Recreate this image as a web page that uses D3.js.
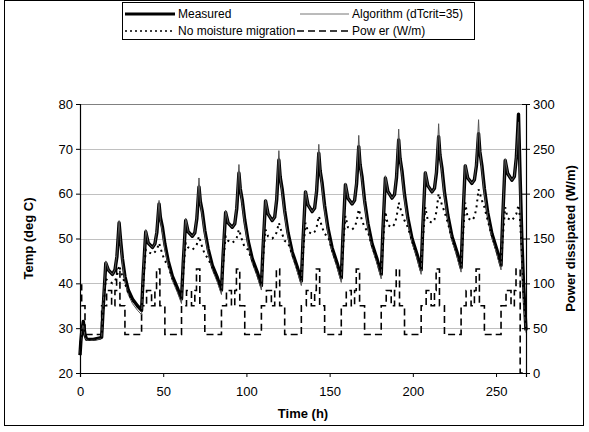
<!DOCTYPE html>
<html><head><meta charset="utf-8">
<script src="https://cdn.jsdelivr.net/npm/d3@7"></script>
<style>body{margin:0;background:#fff}svg{display:block}text{font-family:"Liberation Sans",Arial,sans-serif}</style>
</head><body>
<script>
// ---- data ----
const times = [0,0.5,1,2,3,4,8,12,
13,14,15.5,17,19.5,21,22.2,23.5,24.3,25.5,27,29,31.5,34.5,
37,38,39.5,41,43.5,45,46.2,47.5,48.3,49.5,51,53,55.5,58.5,
61,62,63.5,65,67.5,69,70.2,71.5,72.3,73.5,75,77,79.5,82.5,
85,86,87.5,89,91.5,93,94.2,95.5,96.3,97.5,99,101,103.5,106.5,
109,110,111.5,113,115.5,117,118.2,119.5,120.3,121.5,123,125,127.5,130.5,
133,134,135.5,137,139.5,141,142.2,143.5,144.3,145.5,147,149,151.5,154.5,
157,158,159.5,161,163.5,165,166.2,167.5,168.3,169.5,171,173,175.5,178.5,
181,182,183.5,185,187.5,189,190.2,191.5,192.3,193.5,195,197,199.5,202.5,
205,206,207.5,209,211.5,213,214.2,215.5,216.3,217.5,219,221,223.5,226.5,
229,230,231.5,233,235.5,237,238.2,239.5,240.3,241.5,243,245,247.5,250.5,
253,254,255.5,257,259.5,261,262.2,263.5,264.3,265.5,266.5,268];

const measured = [24,27,29,31.5,28.5,27.5,27.5,27.8,
28,35,44.5,43,42,43,46,53.5,50,45.5,41.5,38.5,36.5,35,
34,41.9,51.5,49,48,48.8,51.4,57.7,54.7,52.6,48.8,45,41.6,39,
36.5,44.4,54,51.5,50.5,51.3,54.4,61.5,58.3,56,51.8,47.7,44,41.3,
38.5,46.3,55.8,53.5,52.5,53.3,56.7,64.6,61.1,58.6,54.1,49.5,45.5,42.5,
39.5,48,58.4,55.5,54,54.8,58.7,67.5,63.7,61,56.2,51.3,47,43.7,
40.5,49.5,60.4,57.5,56,56.8,60.6,69,65.1,62.3,57.3,52.3,47.9,44.5,
41.2,50.6,62,59,57.7,58.5,62.2,70.5,66.5,63.7,58.5,53.4,48.8,45.4,
42,51.7,63.5,60.5,59,59.8,63.6,72,67.9,65,59.8,54.6,50,46.5,
43,52.7,64.6,61.8,60.4,61.2,64.7,72.7,68.6,65.7,60.4,55.2,50.5,47,
43.5,53.7,66.2,63.5,62.3,63.1,66.2,73.4,69.3,66.3,61.1,55.8,51.1,47.5,
44,54.5,67.4,64.5,63,63.8,68.1,77.7,66,50,40,29.5];

const algorithm = [24,27.5,29.5,31,28,27.3,27.3,27.6,
27.8,36,45,43,42,43,46.5,54,49.5,44.5,40.5,37.5,35.5,34,
33,42.5,52,49,48,48.8,52,58.5,54,51.5,47.5,44,40.6,38,
35.5,45,54.5,51.5,50.5,51.3,55,63.5,58,55,50.8,46.7,43,40.3,
37.5,47,56.3,53.5,52.5,53.3,57.5,66.5,61,57.6,53.1,48.5,44.5,41.5,
38.5,48.6,58.8,55.5,54,54.8,59.5,69.6,63.5,60,55.2,50.3,46,42.7,
39.5,50,60.8,57.5,56,56.8,61.5,71,65,61.3,56.3,51.3,46.9,43.5,
40.2,51,62.4,59,57.7,58.5,63,73,66.5,62.7,57.5,52.4,47.8,44.4,
41,52.2,64,60.5,59,59.8,64.5,74.4,68,64,58.8,53.6,49,45.5,
42,53.2,65,61.8,60.4,61.2,65.5,75.6,68.8,64.7,59.4,54.2,49.5,46,
42.5,54.2,66.6,63.5,62.3,63.1,67,76.5,69.5,65.3,60.1,54.8,50.1,46.5,
43,55,67.8,64.5,63,63.8,68.5,76,63,45,36,29];

const noMoisture = [24,27,29,31.5,28.5,27.5,27.5,27.8,
28,34,41,40.5,40,40.5,41.6,44,43,41.5,40,37.8,36.2,34.8,
34,39.5,47.5,47,46.5,47,47.5,49,48,46.5,45,44,41.1,38.7,
36.5,42,49,48,47.5,48,48.7,50.5,49.5,48,46.5,45.5,43.5,41,
38.5,44,50.5,49.5,49,49.5,50.2,52,51,49.5,48,47.5,45,42.2,
39.5,45.5,52,50.5,50,50.5,51.4,53.5,52.5,51,49.5,49,46.5,43.4,
40.5,46.5,53.5,51.5,51,51.5,52.6,55,54,52.5,51,50.5,47.4,44.2,
41.2,47.5,55,52.5,52,52.5,53.8,56.5,55.5,54,52.5,51.5,48.3,45.1,
42,48.5,56,53,52.5,53.2,54.7,58,57,55.5,54,52.5,49.5,46.2,
43,49.5,57,54,53.5,54.2,56,60,59,57.5,56,53.5,50,46.7,
43.5,50,58,54.5,54,54.8,56.8,61,60,58.5,57,54,50.6,47.2,
44,50,57,54.5,54,54.8,55.5,57.5,55,47,38,30];

const powerTimes = [0,1,3,
13,16,19,21,22,24,27,
37,40,43,45,46,48,51,
61,64,67,69,70,72,75,
85,88,91,93,94,96,99,
109,112,115,117,118,120,123,
133,136,139,141,142,144,147,
157,160,163,165,166,168,171,
181,184,187,189,190,192,195,
205,208,211,213,214,216,219,
229,232,235,237,238,240,243,
253,256,259,261,262,264.5,268];
const power = [98,75,43,
75,92,75,92,116,75,43,
75,92,75,92,116,75,43,
75,92,75,92,116,75,43,
75,92,75,92,116,75,43,
75,92,75,92,116,75,43,
75,92,75,92,116,75,43,
75,92,75,92,116,75,43,
75,92,75,92,116,75,43,
75,92,75,92,116,75,43,
75,92,75,92,116,75,43,
75,92,75,92,116,0,0];

const xTicks = [0,50,100,150,200,250];
const tempTicks = [20,30,40,50,60,70,80];
const powerTicks = [0,50,100,150,200,250,300];
const legendLabels = ["Measured","Algorithm (dTcrit=35)","No moisture migration","Pow er (W/m)"];

// ---- drawing ----
const W = 589, H = 432;
const svg = d3.select("body").append("svg").attr("width", W).attr("height", H);

const x = d3.scaleLinear().domain([0, 268]).range([80, 526]);
const yT = d3.scaleLinear().domain([20, 80]).range([373, 104]);
const yP = d3.scaleLinear().domain([0, 300]).range([373, 104]);

// outer border
svg.append("rect").attr("x", 4.5).attr("y", 0.5).attr("width", 579).attr("height", 425)
  .attr("fill", "none").attr("stroke", "#000").attr("stroke-width", 1);

// gridlines
svg.append("g").selectAll("line").data(tempTicks.filter(d => d > 20 && d < 80)).join("line")
  .attr("x1", x(0)).attr("x2", x(268))
  .attr("y1", d => Math.round(yT(d)) + 0.5).attr("y2", d => Math.round(yT(d)) + 0.5)
  .attr("stroke", "#c0c0c0").attr("stroke-width", 1);
svg.append("line").attr("x1", x(0)).attr("x2", x(268))
  .attr("y1", Math.round(yT(80)) + 0.5).attr("y2", Math.round(yT(80)) + 0.5)
  .attr("stroke", "#808080").attr("stroke-width", 1);

// series
const pts = vals => times.map((t, i) => [t, vals[i]]);
const lineT = d3.line().x(d => x(d[0])).y(d => yT(d[1]));
const lineP = d3.line().x(d => x(d[0])).y(d => yP(d[1])).curve(d3.curveStepAfter);

svg.append("path").datum(powerTimes.map((t, i) => [t, power[i]])).attr("d", lineP)
  .attr("fill", "none").attr("stroke", "#000").attr("stroke-width", 1.6).attr("stroke-dasharray", "7,4");
svg.append("path").datum(pts(measured)).attr("d", lineT)
  .attr("fill", "none").attr("stroke", "#000").attr("stroke-width", 3.4).attr("stroke-linejoin", "round");
svg.append("path").datum(pts(algorithm)).attr("d", lineT)
  .attr("fill", "none").attr("stroke", "#555").attr("stroke-width", 1);
svg.append("path").datum(pts(noMoisture)).attr("d", lineT)
  .attr("fill", "none").attr("stroke", "#000").attr("stroke-width", 2).attr("stroke-dasharray", "2,4");

// axes
const fs = "13px";
const gx = svg.append("g").attr("transform", `translate(0,${yT(20)})`)
  .call(d3.axisBottom(x).tickValues(xTicks).tickSize(4).tickPadding(10).tickFormat(d3.format("d")));
const gl = svg.append("g").attr("transform", `translate(${x(0)},0)`)
  .call(d3.axisLeft(yT).tickValues(tempTicks).tickSize(4).tickPadding(3));
const gr = svg.append("g").attr("transform", `translate(${x(268)},0)`)
  .call(d3.axisRight(yP).tickValues(powerTicks).tickSize(4).tickPadding(3));
[gx, gl, gr].forEach(g => {
  g.select(".domain").attr("stroke", "#000").attr("stroke-width", 1.2);
  g.selectAll(".tick line").attr("stroke", "#000");
  g.selectAll(".tick text").attr("font-size", fs).attr("fill", "#000")
    .style("font-family", "'Liberation Sans',Arial,sans-serif");
});
gr.selectAll(".tick line").attr("x1", -4);

// axis titles
svg.append("text").attr("x", x(134)).attr("y", 418).attr("text-anchor", "middle")
  .attr("font-size", fs).attr("font-weight", "bold").text("Time (h)");
svg.append("text").attr("transform", `translate(33,${(yT(20)+yT(80))/2}) rotate(-90)`)
  .attr("text-anchor", "middle").attr("font-size", fs).attr("font-weight", "bold").text("Temp (deg C)");
svg.append("text").attr("transform", `translate(575,${(yT(20)+yT(80))/2}) rotate(-90)`)
  .attr("text-anchor", "middle").attr("font-size", fs).attr("font-weight", "bold").text("Power dissipated (W/m)");

// legend
const lg = svg.append("g");
lg.append("rect").attr("x", 122.5).attr("y", 2.5).attr("width", 352).attr("height", 37)
  .attr("fill", "#fff").attr("stroke", "#000");
const legendItems = [
  {x1: 125, x2: 175, tx: 178, y: 14, stroke: "#000", w: 3, dash: null},
  {x1: 300, x2: 349, tx: 352, y: 14, stroke: "#777", w: 1, dash: null},
  {x1: 125, x2: 175, tx: 178, y: 31, stroke: "#000", w: 1.5, dash: "2,3"},
  {x1: 297, x2: 349, tx: 352, y: 31, stroke: "#000", w: 1.6, dash: "7,4"}
];
legendItems.forEach((d, i) => {
  const l = lg.append("line").attr("x1", d.x1).attr("x2", d.x2).attr("y1", d.y).attr("y2", d.y)
    .attr("stroke", d.stroke).attr("stroke-width", d.w);
  if (d.dash) l.attr("stroke-dasharray", d.dash);
  lg.append("text").attr("x", d.tx).attr("y", d.y).attr("dy", "0.35em")
    .attr("font-size", "12px").text(legendLabels[i]);
});
</script>
</body></html>
